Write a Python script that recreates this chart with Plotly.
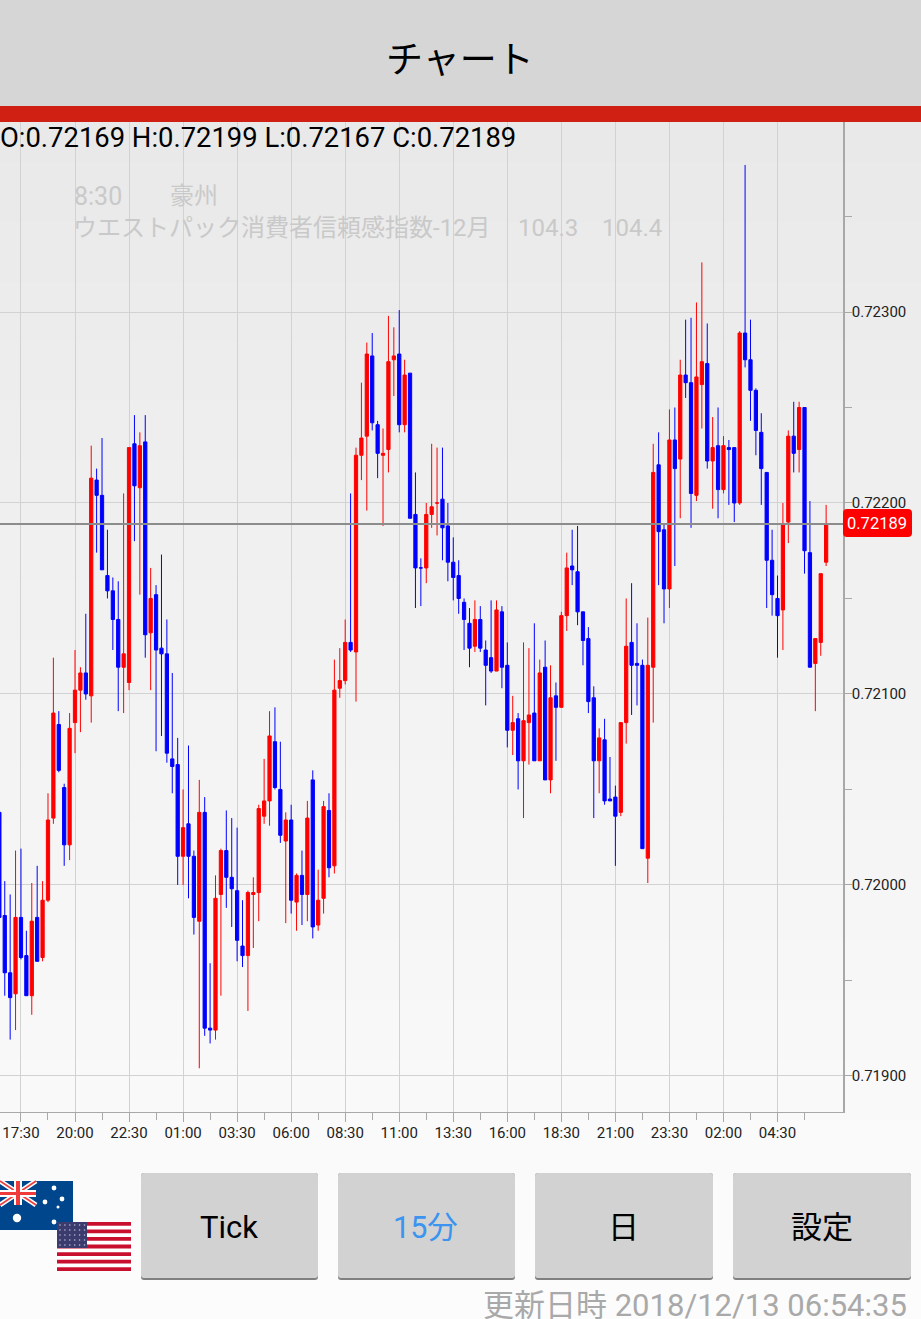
import plotly.graph_objects as go

W, H = 921, 1319
opens = [0.72038,0.71984,0.71954,0.71943,0.71983,0.71963,0.71942,0.71983,0.71962,0.71992,0.72035,0.72084,0.72051,0.72021,0.72085,0.72102,0.72111,0.72099,0.72212,0.72204,
0.72162,0.72154,0.72139,0.72114,0.72106,0.72231,0.72208,0.72232,0.72132,0.72152,0.72124,0.72121,0.72066,0.72063,0.72015,0.72032,0.72015,0.71981,0.72038,0.71925,
0.71924,0.71995,0.72018,0.72004,0.71997,0.71968,0.71963,0.71995,0.71996,0.72036,0.72044,0.72075,0.72050,0.72023,0.72034,0.71991,0.72005,0.71995,0.72055,0.71979,
0.71993,0.72039,0.72010,0.72103,0.72107,0.72127,0.72122,0.72225,0.72235,0.72277,0.72241,0.72225,0.72228,0.72275,0.72278,0.72241,0.72268,0.72194,0.72166,0.72166,
0.72194,0.72200,0.72202,0.72188,0.72169,0.72162,0.72148,0.72137,0.72125,0.72139,0.72123,0.72119,0.72112,0.72143,0.72115,0.72081,0.72087,0.72065,0.72085,0.72090,
0.72065,0.72114,0.72055,0.72099,0.72093,0.72141,0.72167,0.72164,0.72143,0.72129,0.72098,0.72065,0.72076,0.72045,0.72046,0.72038,0.72085,0.72127,0.72116,0.72115,
0.72014,0.72114,0.72220,0.72186,0.72155,0.72233,0.72223,0.72267,0.72263,0.72204,0.72262,0.72273,0.72222,0.72230,0.72207,0.72229,0.72229,0.72200,0.72289,0.72275,
0.72259,0.72237,0.72216,0.72170,0.72150,0.72144,0.72190,0.72235,0.72228,0.72250,0.72174,0.72116,0.72127,0.72169]
highs = [0.72038,0.72002,0.71995,0.72018,0.72019,0.71976,0.72001,0.72010,0.72002,0.72048,0.72119,0.72091,0.72053,0.72090,0.72123,0.72114,0.72142,0.72230,0.72218,0.72234,
0.72186,0.72161,0.72159,0.72205,0.72229,0.72246,0.72237,0.72246,0.72166,0.72157,0.72173,0.72139,0.72111,0.72077,0.72050,0.72073,0.72018,0.72055,0.72046,0.71959,
0.72005,0.72019,0.72039,0.72035,0.72030,0.71992,0.71997,0.72004,0.72042,0.72066,0.72091,0.72093,0.72075,0.72038,0.72042,0.72006,0.72018,0.72044,0.72060,0.72008,
0.72044,0.72048,0.72118,0.72124,0.72139,0.72205,0.72229,0.72263,0.72284,0.72289,0.72243,0.72239,0.72298,0.72292,0.72301,0.72275,0.72268,0.72216,0.72171,0.72200,
0.72231,0.72229,0.72229,0.72200,0.72182,0.72170,0.72150,0.72145,0.72149,0.72146,0.72128,0.72149,0.72149,0.72146,0.72127,0.72099,0.72090,0.72127,0.72124,0.72137,
0.72118,0.72128,0.72115,0.72106,0.72143,0.72174,0.72186,0.72188,0.72143,0.72135,0.72104,0.72082,0.72087,0.72067,0.72052,0.72085,0.72150,0.72158,0.72137,0.72118,
0.72140,0.72231,0.72237,0.72189,0.72249,0.72250,0.72275,0.72296,0.72297,0.72305,0.72326,0.72294,0.72245,0.72250,0.72235,0.72233,0.72229,0.72290,0.72377,0.72296,
0.72260,0.72247,0.72216,0.72186,0.72162,0.72200,0.72238,0.72253,0.72253,0.72250,0.72201,0.72129,0.72163,0.72199]
lows = [0.71982,0.71942,0.71919,0.71924,0.71961,0.71942,0.71932,0.71960,0.71960,0.71991,0.72032,0.72059,0.72010,0.72013,0.72069,0.72080,0.72097,0.72085,0.72174,0.72165,
0.72150,0.72123,0.72091,0.72090,0.72102,0.72180,0.72152,0.72119,0.72102,0.72070,0.72078,0.72064,0.72048,0.72000,0.72000,0.71993,0.71974,0.71904,0.71921,0.71917,
0.71919,0.71942,0.71988,0.71978,0.71960,0.71957,0.71934,0.71967,0.71981,0.72032,0.72031,0.72050,0.72022,0.71980,0.71985,0.71976,0.71979,0.71981,0.71972,0.71976,
0.71985,0.72004,0.72006,0.72098,0.72105,0.72122,0.72096,0.72212,0.72196,0.72238,0.72213,0.72188,0.72216,0.72256,0.72237,0.72237,0.72192,0.72145,0.72146,0.72158,
0.72187,0.72183,0.72170,0.72159,0.72149,0.72142,0.72123,0.72114,0.72122,0.72122,0.72094,0.72111,0.72112,0.72103,0.72072,0.72068,0.72050,0.72035,0.72063,0.72065,
0.72065,0.72055,0.72048,0.72065,0.72093,0.72133,0.72157,0.72136,0.72115,0.72090,0.72035,0.72048,0.72042,0.72044,0.72010,0.72036,0.72074,0.72089,0.72094,0.72019,
0.72001,0.72085,0.72157,0.72137,0.72145,0.72167,0.72192,0.72255,0.72187,0.72201,0.72239,0.72218,0.72197,0.72192,0.72205,0.72199,0.72190,0.72199,0.72271,0.72243,
0.72225,0.72199,0.72145,0.72141,0.72119,0.72123,0.72179,0.72216,0.72216,0.72163,0.72114,0.72091,0.72120,0.72167]
closes = [0.71983,0.71954,0.71941,0.71983,0.71962,0.71942,0.71981,0.71960,0.71992,0.72034,0.72090,0.72060,0.72021,0.72082,0.72102,0.72111,0.72100,0.72213,0.72204,0.72165,
0.72154,0.72139,0.72114,0.72121,0.72229,0.72209,0.72230,0.72131,0.72150,0.72123,0.72121,0.72069,0.72062,0.72015,0.72030,0.72015,0.71983,0.72038,0.71925,0.71924,
0.71993,0.72018,0.72004,0.71998,0.71971,0.71963,0.71996,0.71996,0.72040,0.72044,0.72078,0.72051,0.72026,0.72034,0.71992,0.72005,0.71995,0.72035,0.71978,0.71992,
0.72041,0.72009,0.72102,0.72107,0.72127,0.72123,0.72225,0.72234,0.72278,0.72242,0.72226,0.72226,0.72274,0.72277,0.72241,0.72267,0.72192,0.72166,0.72166,0.72194,
0.72198,0.72200,0.72187,0.72169,0.72161,0.72150,0.72139,0.72124,0.72139,0.72124,0.72115,0.72112,0.72144,0.72114,0.72081,0.72085,0.72065,0.72086,0.72089,0.72065,
0.72111,0.72055,0.72098,0.72093,0.72141,0.72166,0.72165,0.72143,0.72128,0.72096,0.72065,0.72077,0.72044,0.72044,0.72036,0.72085,0.72125,0.72115,0.72115,0.72019,
0.72115,0.72216,0.72185,0.72155,0.72233,0.72218,0.72267,0.72263,0.72205,0.72266,0.72274,0.72222,0.72229,0.72207,0.72230,0.72228,0.72200,0.72289,0.72275,0.72259,
0.72238,0.72218,0.72170,0.72152,0.72141,0.72189,0.72235,0.72226,0.72250,0.72175,0.72114,0.72129,0.72163,0.72189]
time_labels = ["17:30","20:00","22:30","01:00","03:30","06:00","08:30","11:00","13:30","16:00","18:30","21:00","23:30","02:00","04:30"]
time_label_bars = [4,14,24,34,44,54,64,74,84,94,104,114,124,134,144]
half_tick_bars = [9,19,29,39,49,59,69,79,89,99,109,119,129,139,149]
price_ticks = [0.72000,0.72100,0.72200,0.72300,0.71900]
half_price_ticks = [0.71950,0.72050,0.72150,0.72250,0.72350]
last_price = 0.72189
ohlc_text = "O:0.72169 H:0.72199 L:0.72167 C:0.72189"

CJK = "Roboto, 'Noto Sans CJK JP'"
X = lambda p: p / W
Y = lambda p: 1 - p / H
shapes, notes = [], []

def rect(x0, y0, x1, y1, color, layer="below"):
    shapes.append(dict(type="rect", xref="paper", yref="paper", x0=X(x0), x1=X(x1), y0=Y(y0), y1=Y(y1),
                       fillcolor=color, line=dict(width=0), layer=layer))

def rrect(x0, y0, x1, y1, r, color, layer="below"):
    a, b, c, d = X(x0), X(x1), Y(y0), Y(y1)
    rx, ry = r / W, r / H
    path = (f"M{a+rx},{c} L{b-rx},{c} Q{b},{c} {b},{c-ry} L{b},{d+ry} Q{b},{d} {b-rx},{d} "
            f"L{a+rx},{d} Q{a},{d} {a},{d+ry} L{a},{c-ry} Q{a},{c} {a+rx},{c} Z")
    shapes.append(dict(type="path", xref="paper", yref="paper", path=path, fillcolor=color,
                       line=dict(width=0), layer=layer))

def disc(cx, cy, r, color="#ffffff"):
    shapes.append(dict(type="circle", xref="paper", yref="paper", x0=X(cx-r), x1=X(cx+r), y0=Y(cy-r), y1=Y(cy+r),
                       fillcolor=color, line=dict(width=0), layer="below"))

def seg(x0, y0, x1, y1, color, w):
    shapes.append(dict(type="line", xref="paper", yref="paper", x0=X(x0), x1=X(x1), y0=Y(y0), y1=Y(y1),
                       line=dict(color=color, width=w), layer="below"))

def text(s, x, y, size, color="#000000", anchor="center", family=CJK):
    notes.append(dict(text=s, xref="paper", yref="paper", x=X(x), y=Y(y), xanchor=anchor, yanchor="middle",
                      showarrow=False, font=dict(size=size, color=color, family=family), borderpad=0))

# page background, light-to-lighter vertical wash
bands = 60
for k in range(bands):
    y0 = 122 + (H - 122) * k / bands
    y1 = 122 + (H - 122) * (k + 1) / bands + 1
    v = round(233 + (252 - 233) * min(1, (k / bands) / 0.95))
    rect(0, y0, W, y1, f"rgb({v},{v},{v})")

rect(0, 0, W, 106, "#d6d6d6")
rect(0, 106, W, 122, "#d02014")
text("チャート", 460, 61, 37)
text(ohlc_text, -1, 138, 27.4, anchor="left", family="Roboto")

# faded calendar notice
fade = "#c9c9c9"
text("8:30", 73, 196, 25, fade, "left")
text("豪州", 169, 196, 24, fade, "left")
text("ウエストパック消費者信頼感指数-12月", 72, 228, 24, fade, "left")
text("104.3", 517, 228, 24, fade, "left")
text("104.4", 601, 228, 24, fade, "left")

# flags
rect(0, 1181, 73, 1230, "#00468c")
for a, b, c, d in [(0, 1181, 36, 1205), (0, 1205, 36, 1181)]:
    seg(a, b, c, d, "#ffffff", 5)
    seg(a, b, c, d, "#ef3b3b", 1.6)
rect(0, 1190, 36, 1197, "#ffffff")
rect(14, 1181, 22, 1205, "#ffffff")
rect(0, 1192, 36, 1195, "#ef3b3b")
rect(16, 1181, 20, 1205, "#ef3b3b")
for cx, cy, r in [(54, 1188, 2.4), (45, 1202, 2.4), (62, 1199, 2.4), (58, 1207, 1.5), (54, 1222, 2.4), (17, 1218, 4.2)]:
    disc(cx, cy, r)
rect(57, 1222, 131, 1271, "#ffffff")
for s in range(7):
    rect(57, 1222 + s * 49 / 13 * 2, 131, 1222 + s * 49 / 13 * 2 + 49 / 13, "#c8102e")
rect(57, 1222, 87, 1248, "#3c3b6e")
for row in range(5):
    for col in range(6):
        disc(60 + col * 4.9, 1225 + row * 5, 0.8, "#b8bdd8")

# buttons
for x0, x1, label, color, size, dx in [(141, 318, "Tick", "#000000", 31, -1), (338, 515, "15分", "#3b94ef", 30.5, -1),
                                       (535, 713, "日", "#000000", 31, -1), (733, 911, "設定", "#000000", 31, 0)]:
    rrect(x0, 1173, x1, 1280, 3, "#808080")
    rrect(x0, 1173, x1, 1278, 3, "#d2d2d2")
    text(label, (x0 + x1) / 2 + dx, 1227, size, color)
text("更新日時 2018/12/13 06:54:35", 908, 1305, 31, "#a9a9a9", "right")

# last-price tag
rrect(843, 509, 912, 537, 4, "#ff0000", layer="above")
text("0.72189", 877, 523, 16.5, "#ffffff", family="Roboto")
shapes.append(dict(type="line", xref="paper", yref="y", x0=0, x1=X(843), y0=last_price, y1=last_price,
                   line=dict(color="#8c8c8c", width=2), layer="above"))

candle = go.Candlestick(
    x=list(range(len(opens))), open=opens, high=highs, low=lows, close=closes,
    increasing=dict(line=dict(color="#ff0000", width=1), fillcolor="#ff0000"),
    decreasing=dict(line=dict(color="#0000ff", width=1), fillcolor="#0000ff"),
    whiskerwidth=0, hoverinfo="skip", showlegend=False,
)

GRID = "#d2d2d2"
AXIS = "#a8a8a8"
TICKF = dict(size=15, color="#222222", family="Roboto")
fig = go.Figure(candle)
fig.update_layout(
    width=W, height=H, margin=dict(l=0, r=0, t=0, b=0), autosize=False,
    paper_bgcolor="#fafafa", plot_bgcolor="rgba(0,0,0,0)",
    boxgap=0.4, boxgroupgap=0, dragmode=False,
    shapes=shapes, annotations=notes,
    xaxis=dict(domain=[0, 843 / W], range=[0.12, 156.12], rangeslider=dict(visible=False), fixedrange=True,
               tickmode="array", tickvals=time_label_bars, ticktext=time_labels, tickfont=TICKF,
               ticks="outside", ticklen=9, tickcolor=AXIS, tickwidth=1, showgrid=True, gridcolor=GRID, gridwidth=1,
               ticklabelstandoff=-2,
               showline=True, linecolor=AXIS, linewidth=1, zeroline=False, anchor="y",
               minor=dict(tickmode="array", tickvals=half_tick_bars, ticks="outside", ticklen=7,
                          tickcolor=AXIS, tickwidth=1, showgrid=False)),
    yaxis=dict(domain=[1 - 1112 / H, 1 - 122 / H], range=[0.718811, 0.723995], side="right", fixedrange=True,
               tickmode="array", tickvals=price_ticks, ticktext=[f"{v:.5f}" for v in price_ticks], tickfont=TICKF,
               ticks="outside", ticklen=7, tickcolor=AXIS, tickwidth=1, showgrid=True, gridcolor=GRID, gridwidth=1,
               ticklabelstandoff=-3,
               showline=True, linecolor=AXIS, linewidth=1.5, zeroline=False, anchor="x",
               minor=dict(tickmode="array", tickvals=half_price_ticks, ticks="outside", ticklen=7,
                          tickcolor=AXIS, tickwidth=1, showgrid=False)),
)
fig.write_html("out.html", config=dict(displayModeBar=False),
               post_script="document.body.style.margin='0';document.body.style.overflow='hidden';")
